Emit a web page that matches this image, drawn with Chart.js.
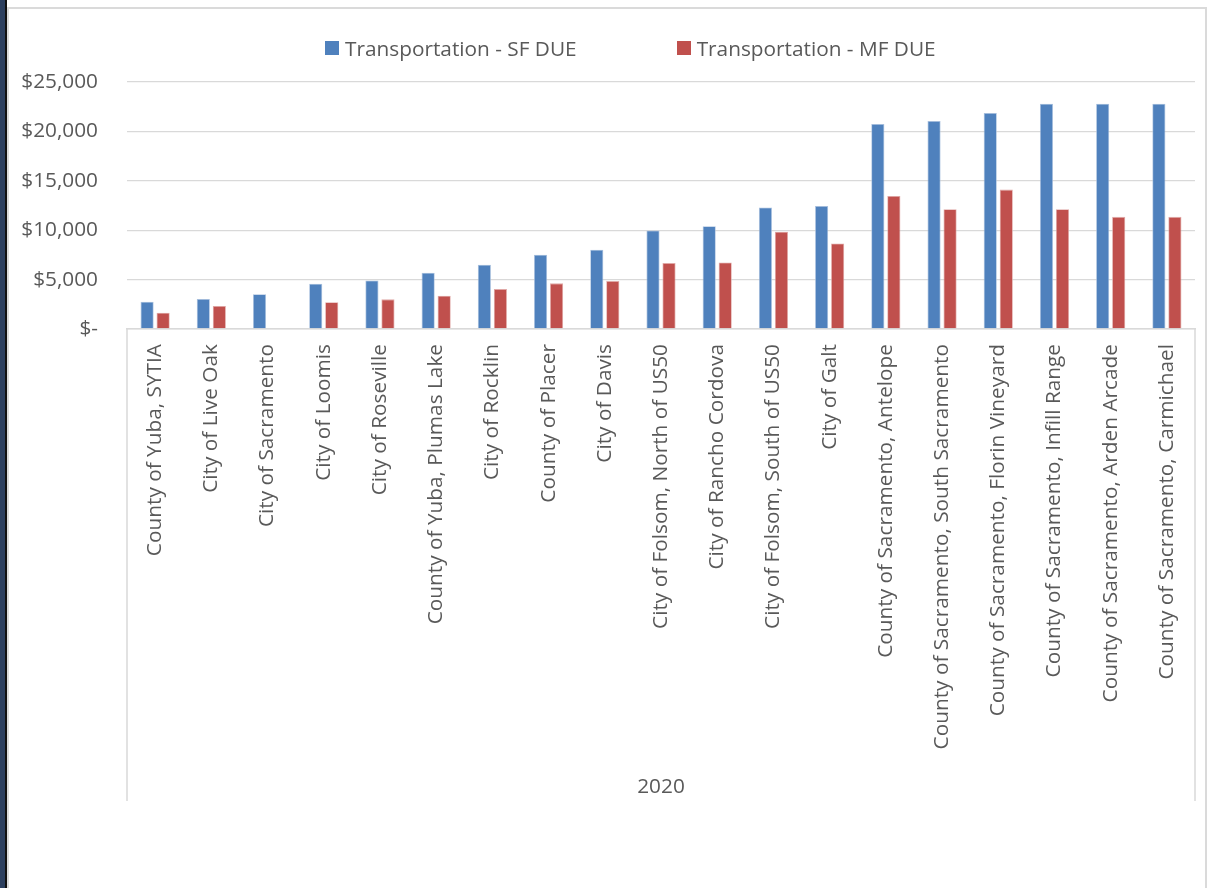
<!DOCTYPE html>
<html>
<head>
<meta charset="utf-8">
<script src="https://cdn.jsdelivr.net/npm/chart.js@4/dist/chart.umd.min.js"></script>
<style>
  html, body { margin: 0; padding: 0; background: #fff; }
  body { width: 1211px; height: 888px; position: relative; overflow: hidden; font-family: "Open Sans", sans-serif; }
  .side-strip { position: absolute; left: 0; top: 0; width: 5px; height: 888px; background: #2c3f5e; }
  .side-edge { position: absolute; left: 5px; top: 0; width: 2px; height: 888px; background: #111; }
  .frame { position: absolute; left: 7px; top: 7px; width: 1196px; height: 900px; border: 2px solid #dadada; }
  #chart { position: absolute; left: 0; top: 0; }
  .legend { position: absolute; left: 325px; top: 34px; display: flex; align-items: center; font-size: 20.8px; color: #595959; }
  .legend-item { display: flex; align-items: center; margin-right: 100px; white-space: nowrap; }
  .legend-box { width: 14px; height: 14px; margin-right: 6px; }
</style>
</head>
<body>
<div class="side-strip"></div>
<div class="side-edge"></div>
<div class="frame"></div>
<canvas id="chart" width="1211" height="888"></canvas>
<div class="legend" id="legend"></div>
<script>
// --- dados ---
const categories = [
    'County of Yuba, SYTIA',
    'City of Live Oak',
    'City of Sacramento',
    'City of Loomis',
    'City of Roseville',
    'County of Yuba, Plumas Lake',
    'City of Rocklin',
    'County of Placer',
    'City of Davis',
    'City of Folsom, North of US50',
    'City of Rancho Cordova',
    'City of Folsom, South of US50',
    'City of Galt',
    'County of Sacramento, Antelope',
    'County of Sacramento, South Sacramento',
    'County of Sacramento, Florin Vineyard',
    'County of Sacramento, Infill Range',
    'County of Sacramento, Arden Arcade',
    'County of Sacramento, Carmichael'
];
const groupLabel = '2020';
const seriesNames = ['Transportation - SF DUE', 'Transportation - MF DUE'];
const sfDue = [2760, 3040, 3510, 4590, 4920, 5700, 6500, 7510, 8020, 9970, 10400, 12290, 12460, 20750, 21050, 21860, 22800, 22800, 22800];
const mfDue = [1650, 2330, null, 2700, 3000, 3370, 4040, 4620, 4850, 6670, 6740, 9840, 8660, 13470, 12120, 14110, 12120, 11350, 11350];
const yTicks = [0, 5000, 10000, 15000, 20000, 25000];

const seriesColors = ['#4f81bd', '#c0504d'];
const textColor = '#595959';
const gridColor = '#d9d9d9';
const baseFont = { family: '"Open Sans", sans-serif', size: 20.8 };

// legenda em HTML (o espaçamento do original é largo demais para o plugin)
const legendEl = document.getElementById('legend');
seriesNames.forEach((name, i) => {
    const item = document.createElement('div');
    item.className = 'legend-item';
    item.innerHTML = `<span class="legend-box" style="background:${seriesColors[i]}"></span>${name}`;
    legendEl.appendChild(item);
});

// linhas verticais do eixo de categorias agrupado (esquerda e direita)
const groupAxisLines = {
    id: 'groupAxisLines',
    afterDraw(chart) {
        const xs = chart.scales.x;
        const ctx = chart.ctx;
        ctx.save();
        ctx.strokeStyle = gridColor;
        ctx.lineWidth = 1.5;
        ctx.beginPath();
        ctx.moveTo(xs.left, xs.top);
        ctx.lineTo(xs.left, xs.bottom);
        ctx.moveTo(xs.right, xs.top);
        ctx.lineTo(xs.right, xs.bottom);
        ctx.stroke();
        ctx.restore();
    }
};

const formatMoney = (v) => v === 0 ? '$-' : '$' + v.toLocaleString('en-US');

new Chart(document.getElementById('chart').getContext('2d'), {
    type: 'bar',
    data: {
        labels: categories,
        datasets: [
            { label: seriesNames[0], data: sfDue, backgroundColor: seriesColors[0], borderColor: '#a9c0de', borderWidth: 0.8 },
            { label: seriesNames[1], data: mfDue, backgroundColor: seriesColors[1], borderColor: '#e0a8a6', borderWidth: 0.8 }
        ]
    },
    options: {
        responsive: false,
        animation: false,
        categoryPercentage: 0.57,
        barPercentage: 0.82,
        layout: { padding: { left: 0, right: 16, top: 82, bottom: 87 } },
        plugins: {
            legend: { display: false },
            tooltip: { enabled: false }
        },
        scales: {
            x: {
                grid: { display: false },
                border: { display: true, color: gridColor, width: 1.5 },
                ticks: {
                    autoSkip: false,
                    maxRotation: 90,
                    minRotation: 90,
                    padding: 7,
                    color: textColor,
                    font: baseFont
                },
                title: {
                    display: true,
                    text: groupLabel,
                    color: textColor,
                    font: baseFont,
                    padding: { top: 0, bottom: 1 }
                },
                afterFit: (scale) => { scale.height = 472; }
            },
            y: {
                min: 0,
                max: 25000,
                afterBuildTicks: (scale) => { scale.ticks = yTicks.map(v => ({ value: v })); },
                grid: { color: gridColor, lineWidth: 1.3, drawTicks: false },
                border: { display: false },
                ticks: {
                    padding: 29,
                    color: textColor,
                    font: baseFont,
                    callback: (value) => formatMoney(value)
                },
                afterFit: (scale) => { scale.width = 127; }
            }
        }
    },
    plugins: [groupAxisLines]
});
</script>
</body>
</html>
